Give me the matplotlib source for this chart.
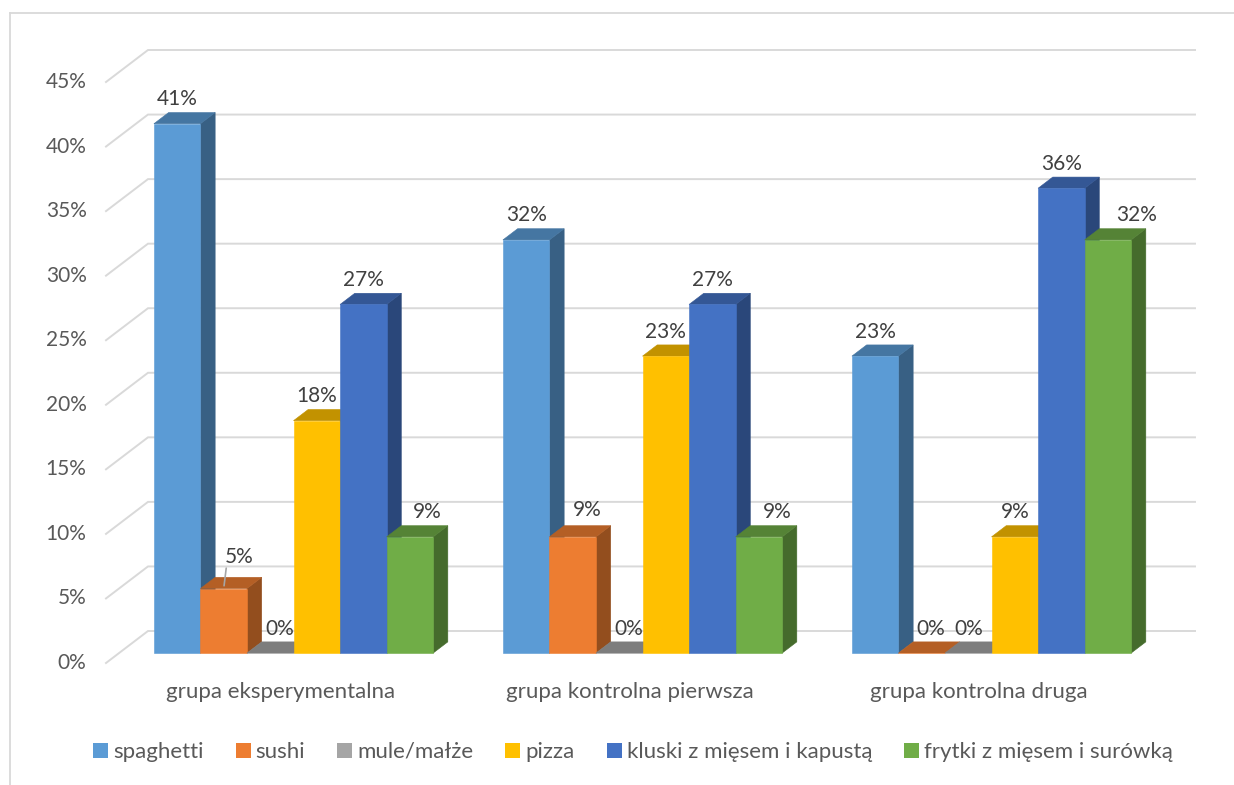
import matplotlib.pyplot as plt
from matplotlib.patches import Polygon, Patch
from matplotlib.lines import Line2D
from matplotlib.colors import to_rgb

# dane
grupy = ['grupa eksperymentalna', 'grupa kontrolna pierwsza', 'grupa kontrolna druga']
serie = ['spaghetti', 'sushi', 'mule/małże', 'pizza',
         'kluski z mięsem i kapustą', 'frytki z mięsem i surówką']
spaghetti = [41, 32, 23]
sushi = [5, 9, 0]
mule = [0, 0, 0]
pizza = [18, 23, 9]
kluski = [27, 27, 36]
frytki = [9, 9, 32]
wartosci = [spaghetti, sushi, mule, pizza, kluski, frytki]
ticki = list(range(0, 50, 5))

kolory = ['#5B9BD5', '#ED7D31', '#A5A5A5', '#FFC000', '#4472C4', '#70AD47']
tekst = '#595959'
siatka = '#D9D9D9'

# uklad (piksele obrazka)
W, H = 1234, 785
X0, CAT = 148, 349          # lewa krawedz tylnej sciany, szerokosc kategorii
Y0, PCT = 631, 581 / 45     # 0% na tylnej scianie, pikseli na 1%
DX, DY = -42 / CAT, -32 / PCT  # przesuniecie glebi (z=1 przod)
Z_PRZOD, Z_TYL = 0.69, 0.34
SZER = 0.8 / 6

# przesuniecia etykiet (px) - dopasowane recznie
przes = {(0, 1): (15, 7), (0, 2): (9, 0), (0, 5): (17, 0),
         (1, 1): (15, 2), (1, 2): (9, 0), (1, 5): (18, 0),
         (2, 1): (9, 0), (2, 5): (29, 0)}

plt.rcParams['font.family'] = ['Lato', 'DejaVu Sans']

fig = plt.figure(figsize=(W / 100, H / 100), dpi=100)
ax = fig.add_axes([0, 0, 1, 1])
ax.set_xlim(-X0 / CAT, (W - X0) / CAT)
ax.set_ylim((Y0 - H) / PCT, Y0 / PCT)
ax.axis('off')


def proj(x, y, z):
    return (x + z * DX, y + z * DY)


def ciemniej(c, f):
    r, g, b = to_rgb(c)
    return (r * f, g * f, b * f)


# siatka + os
for t in ticki:
    pts = [proj(0, t, 1), proj(0, t, 0), proj(3, t, 0)]
    ax.plot([p[0] for p in pts], [p[1] for p in pts], color=siatka, lw=1.4, zorder=1,
            solid_joinstyle='miter')
    ax.annotate(f'{t}%', xy=proj(0, t, 1), xytext=(-14, 0), textcoords='offset points',
                ha='right', va='center', fontsize=15, color=tekst)

for g, nazwa in enumerate(grupy):
    ax.annotate(nazwa, xy=proj(g + 0.5, 0, 1), xytext=(0, -21), textcoords='offset points',
                ha='center', va='center', fontsize=16, color=tekst)

# slupki 3D
zo = 2
for g in range(len(grupy)):
    for s in range(len(serie)):
        v = wartosci[s][g]
        xl = g + 0.1 + s * SZER
        xr = xl + SZER
        c = kolory[s]
        bok = [proj(xr, 0, Z_PRZOD), proj(xr, 0, Z_TYL), proj(xr, v, Z_TYL), proj(xr, v, Z_PRZOD)]
        gora = [proj(xl, v, Z_PRZOD), proj(xr, v, Z_PRZOD), proj(xr, v, Z_TYL), proj(xl, v, Z_TYL)]
        przod = [proj(xl, 0, Z_PRZOD), proj(xr, 0, Z_PRZOD), proj(xr, v, Z_PRZOD), proj(xl, v, Z_PRZOD)]
        for pts, f in ((bok, 0.62), (gora, 0.76), (przod, 1.0)):
            col = ciemniej(c, f)
            ax.add_patch(Polygon(pts, closed=True, facecolor=col, edgecolor=col, lw=0.4, zorder=zo))
        zo += 1
        dx, dy = przes.get((g, s), (0, 0))
        xy = proj((xl + xr) / 2, v, Z_PRZOD)
        ax.annotate(f'{v}%', xy=xy, xytext=(dx * 0.72, (24.5 + dy) * 0.72),
                    textcoords='offset points', ha='center', va='center',
                    fontsize=15, color='#404040', zorder=50)
        if (g, s) == (0, 1):
            ax.annotate('', xy=xy, xytext=(dx * 0.72 - 9, (24.5 + dy) * 0.72 - 8),
                        textcoords='offset points',
                        arrowprops=dict(arrowstyle='-', color='#A6A6A6', lw=1.2,
                                        shrinkA=0, shrinkB=2))

# legenda
uchwyty = [Patch(facecolor=k, edgecolor='none') for k in kolory]
fig.legend(uchwyty, serie, loc='center', bbox_to_anchor=(633 / W, 1 - 752 / H), ncol=6,
           frameon=False, fontsize=16, handlelength=0.68, handleheight=0.68,
           handletextpad=0.22, columnspacing=1.44, labelcolor=tekst)

# ramka wykresu
fig.add_artist(Line2D([10 / W, 1], [1 - 13 / H, 1 - 13 / H], color=siatka, lw=1.3,
                      transform=fig.transFigure))
fig.add_artist(Line2D([10 / W, 10 / W], [0, 1 - 13 / H], color=siatka, lw=1.3,
                      transform=fig.transFigure))

fig.savefig('out.png', dpi=100)
